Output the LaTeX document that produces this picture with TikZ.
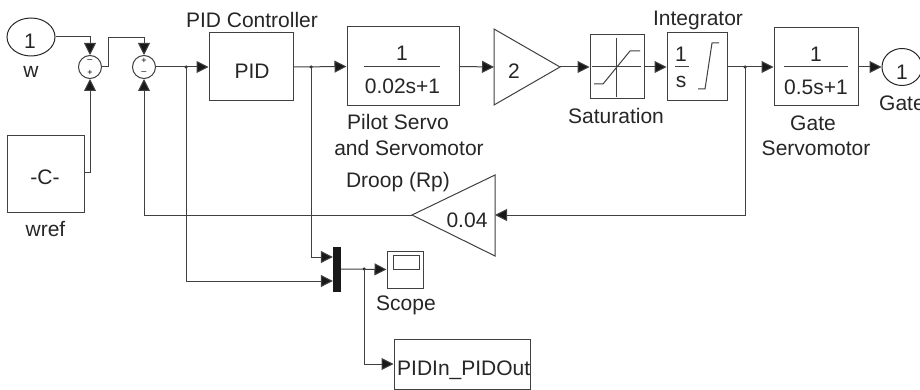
\documentclass[tikz,border=0pt]{standalone}
\usepackage{fontspec}
\setmainfont{Liberation Sans}
\usetikzlibrary{arrows.meta,shapes.geometric}
\tikzset{
  blk/.style={draw=black!75,line width=1pt,fill=white,minimum width=#1,inner sep=0pt},
  wire/.style={draw=black!75,line width=1pt},
  arr/.style={wire,-{Triangle[length=12pt,width=12pt,fill=black!90]}},
  lab/.style={font=\fontsize{21}{24}\selectfont,text=black!85,inner sep=0pt},
  val/.style={font=\fontsize{21}{24}\selectfont,text=black!85,inner sep=0pt},
  jn/.style={circle,fill=black!85,inner sep=0pt,minimum size=3.5pt},
  sumn/.style={draw=black!75,line width=1pt,circle,minimum size=23pt,inner sep=0pt},
  port/.style={draw=black!85,line width=1pt,ellipse,inner sep=0pt},
  sign/.style={font=\fontsize{9}{9}\selectfont,inner sep=0pt},
}
\begin{document}
\begin{tikzpicture}[x=1pt,y=-1pt]
\useasboundingbox (0,0) rectangle (920,390);
% blocks
\node[port,minimum width=48pt,minimum height=38pt] (w) at (31,37) {};
\node[val] at (30,41) {1};
\node[lab] (wl) at (31,72) {w};
\node[sumn] (s1) at (90,67) {};
\node[sign] at (90,61) {--};
\node[sign] at (90,73) {+};
\node[sumn] (s2) at (144,67) {};
\node[sign] at (144,61) {+};
\node[sign] at (144,73) {--};
\node[blk=77pt,minimum height=76pt] (c) at (45.5,174) {};
\node[val] at (45,177) {-C-};
\node[lab] (cl) at (45.5,229) {wref};
\node[blk=84pt,minimum height=68pt] (pid) at (251,67) {};
\node[val] at (252,71) {PID};
\node[lab] (pidl) at (252,20) {PID Controller};
\node[blk=112pt,minimum height=79pt] (ps) at (403,66.5) {};
\draw[wire] (364,67) -- (440,67);
\node[val] at (402,53) {1};
\node[val] at (402.5,86) {0.02s+1};
\node[lab] (psl1) at (398,122) {Pilot Servo};
\node[lab] (psl2) at (409,148) {and Servomotor};
\coordinate (g2l) at (494,67);
\draw[wire,fill=white] (494,29) -- (560,67) -- (494,105) -- cycle;
\coordinate (g2r) at (560,67);
\node[val] at (514,71) {2};
\node[blk=54pt,minimum height=64pt] (sat) at (617,67) {};
\draw[wire] (592,67) -- (641,67) (616,38) -- (616,97);
\draw[wire] (594,84) -- (603,84) -- (630,51) -- (640,51);
\node[lab] (satl) at (616,116) {Saturation};
\node[blk=60pt,minimum height=68pt] (int) at (697,67) {};
\draw[wire] (675,67) -- (689,67);
\node[val] at (681,54) {1};
\node[val] at (681,82) {s};
\draw[wire] (698,89) -- (705,89) -- (712,43) -- (719,43);
\node[lab] (intl) at (698,20) {Integrator};
\node[blk=84pt,minimum height=78pt] (gs) at (816,67) {};
\draw[wire] (784,67) -- (848,67);
\node[val] at (816,54) {1};
\node[val] at (816,87) {0.5s+1};
\node[lab] (gsl1) at (813,123) {Gate};
\node[lab] (gsl2) at (816,148) {Servomotor};
\node[port,minimum width=40pt,minimum height=37pt] (out) at (902,67) {};
\node[val] at (902,72) {1};
\node[lab,anchor=west] (outl) at (879,103) {Gate};
\coordinate (g1l) at (412,215);
\coordinate (g1r) at (495,215);
\draw[wire,fill=white] (495,175) -- (412,215) -- (495,256) -- cycle;
\node[val] at (467,220) {0.04};
\node[lab] (gl) at (398,182) {Droop (Rp)};
\node[fill=black!90,minimum width=8pt,minimum height=45pt,inner sep=0pt] (mux) at (337,269.5) {};
\node[blk=36pt,minimum height=37pt] (sc) at (405,269.5) {};
\draw[wire] (393,255) rectangle (419,269);
\node[lab] (scl) at (406,305) {Scope};
\node[blk=136pt,minimum height=50pt] (pp) at (462,364) {};
\node[lab,anchor=base west] at (397,375) {PIDIn\_PIDOut};
% junctions
\coordinate (j1) at (186,67);
\coordinate (j2) at (311,67);
\coordinate (j3) at (745,67);
\coordinate (j4) at (364,269);
\node[jn] at (j1) {};
\node[jn] at (j2) {};
\node[jn] at (j3) {};
\node[jn] at (j4) {};
% connectors
\draw[arr] (w.east) -- (90,37) -- (s1.north);
\draw[arr] (s1.east) -- (108,67) -- (108,38) -- (144,38) -- (s2.north);
\draw[arr] (c.east |- 0,173) -- (90,173) -- (s1.south);
\draw[arr] (s2.east) -- (pid.west);
\draw[arr] (pid.east) -- (ps.west);
\draw[arr] (ps.east) -- (g2l);
\draw[arr] (g2r) -- (sat.west);
\draw[arr] (sat.east) -- (int.west);
\draw[arr] (int.east) -- (gs.west);
\draw[arr] (gs.east) -- (out.west);
\draw[arr] (j3) -- (745,215) -- (g1r);
\draw[arr] (g1l) -- (144,215) -- (s2.south);
\draw[arr] (j2) -- (311,257) -- (mux.west |- 0,257);
\draw[arr] (j1) -- (186,281) -- (mux.west |- 0,281);
\draw[arr] (mux.east |- 0,269) -- (sc.west);
\draw[arr] (j4) -- (364,364) -- (pp.west);
\end{tikzpicture}
\end{document}
